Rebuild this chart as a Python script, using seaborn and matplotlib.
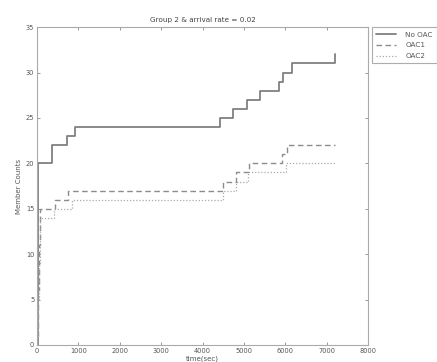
import matplotlib
matplotlib.use("Agg")
import matplotlib.pyplot as plt
import seaborn as sns
import pandas as pd

# ---- data ----
no_oac_t = [0, 10, 355, 730, 920, 4420, 4740, 5065, 5390, 5850, 5950, 6175, 7200]
no_oac_c = [0, 20, 22, 23, 24, 25, 26, 27, 28, 29, 30, 31, 32]

oac1_t = [0, 5, 10, 15, 20, 25, 30, 35, 40, 45, 50, 55, 60, 65, 70, 75,
          435, 750, 4485, 4807, 5128, 5910, 6031, 7200]
oac1_c = [0, 1, 2, 3, 4, 5, 6, 7, 8, 9, 10, 11, 12, 13, 14, 15,
          16, 17, 18, 19, 20, 21, 22, 22]

oac2_t = [0, 6, 12, 18, 24, 30, 36, 42, 48, 54, 60, 66, 72, 78,
          400, 850, 4485, 4807, 5100, 6010, 7200]
oac2_c = [0, 1, 2, 3, 4, 5, 6, 7, 8, 9, 10, 11, 12, 14,
          15, 16, 17, 18, 19, 20, 20]

labels = ["No OAC", "OAC1", "OAC2"]
title = "Group 2 & arrival rate = 0.02"
xlabel = "time(sec)"
ylabel = "Member Counts"
xticks = [0, 1000, 2000, 3000, 4000, 5000, 6000, 7000, 8000]
yticks = [0, 5, 10, 15, 20, 25, 30, 35]

sns.set_theme(style="white")
plt.rcParams["font.family"] = ["DejaVu Sans"]

fig = plt.figure(figsize=(4.37, 3.62), dpi=100)
ax = fig.add_axes([0.085, 0.047, 0.757, 0.878])

series = [
    (no_oac_t, no_oac_c, labels[0], "-", "#808080", 1.3),
    (oac1_t, oac1_c, labels[1], (0, (4, 2.5)), "#8c8c8c", 1.0),
    (oac2_t, oac2_c, labels[2], (0, (1, 1.5)), "#aaaaaa", 0.9),
]
for t, c, lab, ls, col, lw in series:
    df = pd.DataFrame({"t": t, "c": c})
    sns.lineplot(data=df, x="t", y="c", ax=ax, estimator=None, sort=False,
                 drawstyle="steps-post", color=col, linestyle=ls,
                 linewidth=lw, label=lab)

ax.set_xlim(0, 8000)
ax.set_ylim(0, 35)
ax.set_xticks(xticks)
ax.set_yticks(yticks)
ax.tick_params(direction="in", length=2, width=0.6, colors="#888888",
               labelsize=4.8, labelcolor="#555555", top=True, right=True,
               bottom=True, left=True, pad=2)
for s in ax.spines.values():
    s.set_color("#aaaaaa")
    s.set_linewidth(0.8)
ax.set_xlabel(xlabel, fontsize=5, color="#555555", labelpad=1)
ax.set_ylabel(ylabel, fontsize=5, color="#555555", labelpad=3)
ax.set_title(title, fontsize=5.2, color="#444444", pad=4)

leg = ax.legend(loc="upper left", bbox_to_anchor=(1.012, 1.0), fontsize=5.2,
                frameon=True, fancybox=False, edgecolor="#999999",
                handlelength=2.8, borderpad=0.6, labelspacing=0.65,
                handletextpad=1.2, borderaxespad=0)
leg.get_frame().set_linewidth(0.8)
for txt in leg.get_texts():
    txt.set_color("#555555")

fig.savefig("out.png", dpi=100)
